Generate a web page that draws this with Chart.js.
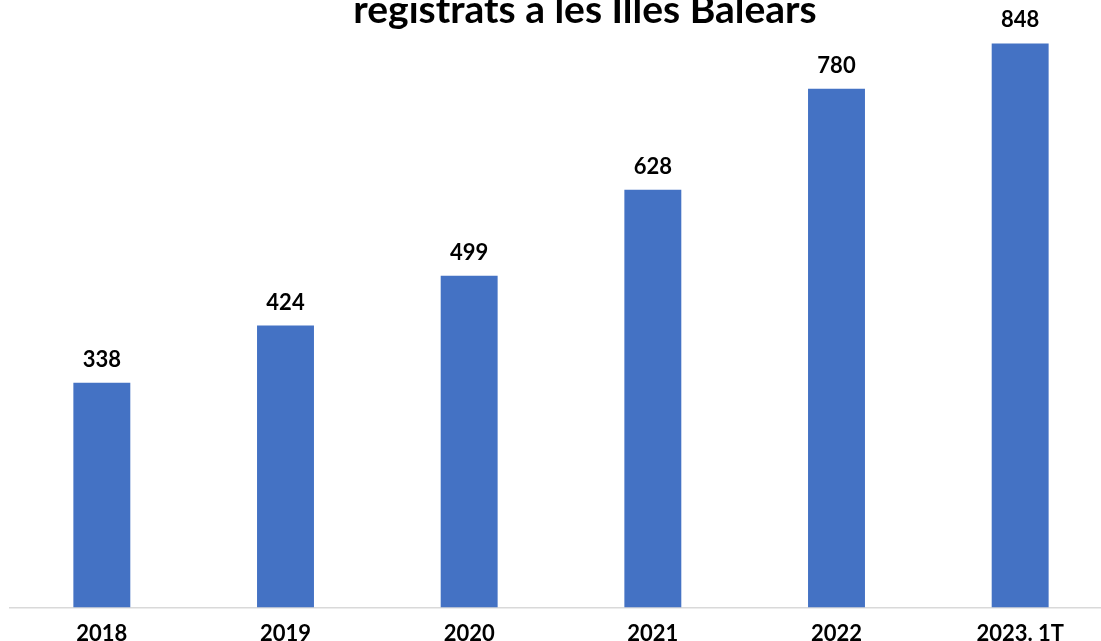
<!DOCTYPE html>
<html>
<head>
<meta charset="utf-8">
<script src="https://cdn.jsdelivr.net/npm/chart.js@4"></script>
<style>
  html, body { margin: 0; padding: 0; background: #fff; overflow: hidden; }
  #wrap { position: absolute; left: 0; top: -13px; width: 1170px; height: 673px; }
</style>
</head>
<body>
<div id="wrap"><canvas id="grafik"></canvas></div>
<script>
// podaci
var anys = ['2018', '2019', '2020', '2021', '2022', '2023. 1T'];
var valors = [338, 424, 499, 628, 780, 848];
var titol = 'registrats a les Illes Balears';

// etiquete iznad stubova
var etiketePlugin = {
  id: 'etikete',
  afterLayout: function(chart) {
    // naslov malo udesno kao na originalu
    if (chart.titleBlock) {
      chart.titleBlock.left += 24;
      chart.titleBlock.right += 24;
    }
  },
  afterDatasetsDraw: function(chart) {
    var ctx = chart.ctx;
    var meta = chart.getDatasetMeta(0);
    ctx.save();
    ctx.font = 'bold 22px Lato';
    ctx.fillStyle = '#000';
    ctx.textAlign = 'center';
    ctx.textBaseline = 'alphabetic';
    meta.data.forEach(function(bar, i) {
      ctx.fillText(String(valors[i]), bar.x, bar.y - 16);
    });
    ctx.restore();
  }
};

var ctx = document.getElementById('grafik').getContext('2d');
var myChart = new Chart(ctx, {
  type: 'bar',
  data: {
    labels: anys,
    datasets: [{
      data: valors,
      backgroundColor: '#4472C4',
      borderWidth: 0,
      categoryPercentage: 1,
      barPercentage: 0.31
    }]
  },
  options: {
    responsive: true,
    maintainAspectRatio: false,
    animation: false,
    layout: { padding: { left: 10, right: 58, top: 0, bottom: 0 } },
    plugins: {
      legend: { display: false },
      tooltip: { enabled: false },
      title: {
        display: true,
        text: titol,
        color: '#000',
        font: { family: 'Lato', size: 39, weight: 'bold' },
        padding: { top: 0, bottom: 5 }
      }
    },
    scales: {
      x: {
        grid: { display: false, drawTicks: false },
        border: { display: true, color: '#d9d9d9', width: 1.5 },
        ticks: {
          color: '#000',
          padding: 13,
          font: { family: 'Lato', size: 22, weight: 'bold' }
        }
      },
      y: {
        display: false,
        min: 0,
        max: 855
      }
    }
  },
  plugins: [etiketePlugin]
});
</script>
</body>
</html>
